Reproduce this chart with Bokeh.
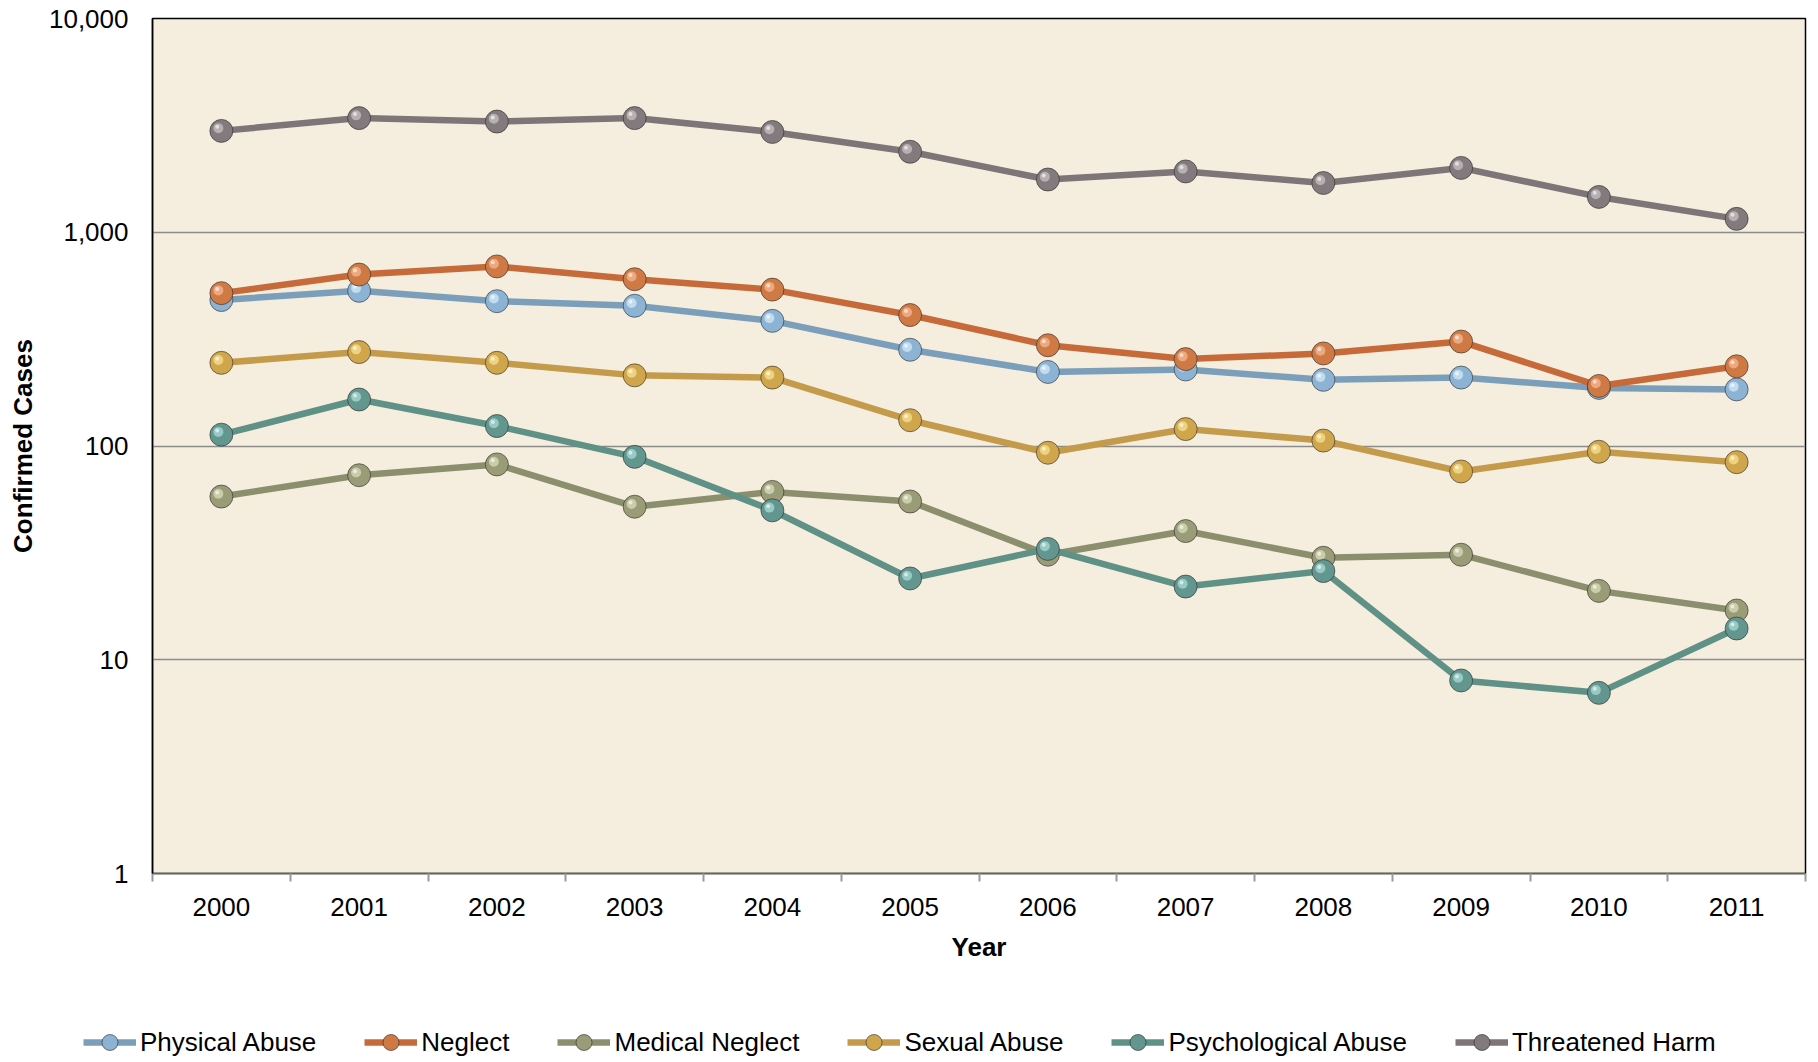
from bokeh.plotting import figure
from bokeh.layouts import column
from bokeh.models import Range1d, FixedTicker, NumeralTickFormatter, BasicTickFormatter, Legend, LegendItem
from bokeh.embed import file_html
from bokeh.resources import INLINE

years = [2000, 2001, 2002, 2003, 2004, 2005, 2006, 2007, 2008, 2009, 2010, 2011]
physical_abuse = [482, 532, 476, 453, 385, 282, 222, 228, 204, 209, 187, 184]
neglect = [519, 634, 692, 603, 539, 410, 296, 255, 271, 308, 191, 236]
medical_neglect = [58, 73, 82, 52, 61, 55, 31, 40, 30, 31, 21, 17]
sexual_abuse = [245, 275, 245, 214, 209, 132, 93, 120, 106, 76, 94, 84]
psychological_abuse = [113, 165, 124, 89, 50, 24, 33, 22, 26, 8, 7, 14]
threatened_harm = [2980, 3420, 3295, 3420, 2945, 2380, 1765, 1925, 1700, 2000, 1463, 1155]
y_ticks = [1, 10, 100, 1000, 10000]

series = [
    ("Physical Abuse", physical_abuse, "#7B9EBA", "#8DB3D4", "#D2EAF7"),
    ("Neglect", neglect, "#C66A3A", "#CF7A45", "#F5B892"),
    ("Medical Neglect", medical_neglect, "#8B8F6D", "#9A9C78", "#DADDB9"),
    ("Sexual Abuse", sexual_abuse, "#C49B4B", "#CFA64C", "#F7E192"),
    ("Psychological Abuse", psychological_abuse, "#5F9186", "#62968F", "#AADBD6"),
    ("Threatened Harm", threatened_harm, "#7D7577", "#827A7C", "#C8C3C4"),
]

FONT = "Liberation Sans"
W = 1810

p = figure(width=W, height=965,
           x_range=Range1d(years[0] - 0.5, years[-1] + 0.5),
           y_range=Range1d(y_ticks[0], y_ticks[-1]),
           y_axis_type="log",
           output_backend="svg", toolbar_location=None,
           min_border_left=152, min_border_top=18, min_border_right=5, min_border_bottom=92)
p.frame_align = False

p.background_fill_color = "#F5EEDF"
p.border_fill_color = "white"
p.outline_line_color = "black"
p.outline_line_width = 1.5

# grid
p.xgrid.visible = False
p.ygrid.ticker = FixedTicker(ticks=y_ticks, minor_ticks=[])
p.ygrid.grid_line_color = "#8c8c8c"
p.ygrid.grid_line_width = 1.6

# x axis
bounds = [y - 0.5 for y in years] + [years[-1] + 0.5]
p.xaxis.ticker = FixedTicker(ticks=years, minor_ticks=bounds)
p.xaxis.formatter = BasicTickFormatter(use_scientific=False)
p.xaxis.major_tick_out = 0
p.xaxis.major_tick_in = 0
p.xaxis.minor_tick_out = 8
p.xaxis.minor_tick_in = 0
p.xaxis.minor_tick_line_color = "#9a9a9a"
p.xaxis.minor_tick_line_width = 2
p.xaxis.axis_line_color = "#666666"
p.xaxis.axis_line_width = 1.5
p.xaxis.major_label_standoff = 16
p.xaxis.axis_label = "Year"
p.xaxis.axis_label_standoff = 13

# y axis
p.yaxis.ticker = FixedTicker(ticks=y_ticks, minor_ticks=[])
p.yaxis.formatter = NumeralTickFormatter(format="0,0")
p.yaxis.major_tick_out = 0
p.yaxis.major_tick_in = 0
p.yaxis.minor_tick_out = 0
p.yaxis.minor_tick_in = 0
p.yaxis.axis_line_color = "black"
p.yaxis.axis_line_width = 1.5
p.yaxis.major_label_standoff = 24
p.yaxis.axis_label = "Confirmed Cases"
p.yaxis.axis_label_standoff = 8

for ax in (p.xaxis, p.yaxis):
    ax.major_label_text_font = FONT
    ax.major_label_text_font_size = "26px"
    ax.major_label_text_color = "black"
    ax.axis_label_text_font = FONT
    ax.axis_label_text_font_size = "26px"
    ax.axis_label_text_font_style = "bold"
    ax.axis_label_text_color = "black"

# legend strip (separate figure so the legend can start left of the plot frame)
lg = figure(width=W, height=97, x_range=Range1d(0, 1), y_range=Range1d(0, 1),
            output_backend="svg", toolbar_location=None,
            x_axis_location=None, y_axis_location=None,
            min_border_left=0, min_border_right=0, min_border_top=0, min_border_bottom=0)
lg.frame_align = False
lg.outline_line_color = None
lg.grid.visible = False
lg.background_fill_color = "white"
lg.border_fill_color = "white"

items = []
for name, vals, lc, sc, hc in series:
    p.line(years, vals, line_color=lc, line_width=6.5)
    p.scatter(years, vals, size=23, fill_color=sc, line_color="#2a2a2a",
              line_alpha=0.6, line_width=1)
    hx = [y - 0.022 for y in years]
    hy = [v * 1.03 for v in vals]
    p.scatter(hx, hy, size=10, fill_color=hc, fill_alpha=0.75, line_color=None)
    hx2 = [y - 0.03 for y in years]
    hy2 = [v * 1.045 for v in vals]
    p.scatter(hx2, hy2, size=4, fill_color="white", fill_alpha=0.6, line_color=None)
    # legend proxies (outside the strip's visible range)
    lr = lg.line(years, vals, line_color=lc, line_width=6.5)
    sr = lg.scatter(years, vals, size=23, fill_color=sc, line_color="#2a2a2a",
                    line_alpha=0.6, line_width=1)
    items.append(LegendItem(label=name, renderers=[lr, sr]))

legend = Legend(items=items, orientation="horizontal", location=(83, 0),
                padding=0, margin=0, border_line_color=None, background_fill_alpha=0,
                glyph_width=53, glyph_height=40, label_standoff=4, spacing=48,
                label_text_font=FONT, label_text_font_size="26px", label_text_color="black")
lg.add_layout(legend)

layout = column(p, lg, spacing=0)
open("out.html", "w").write(file_html(layout, INLINE))
